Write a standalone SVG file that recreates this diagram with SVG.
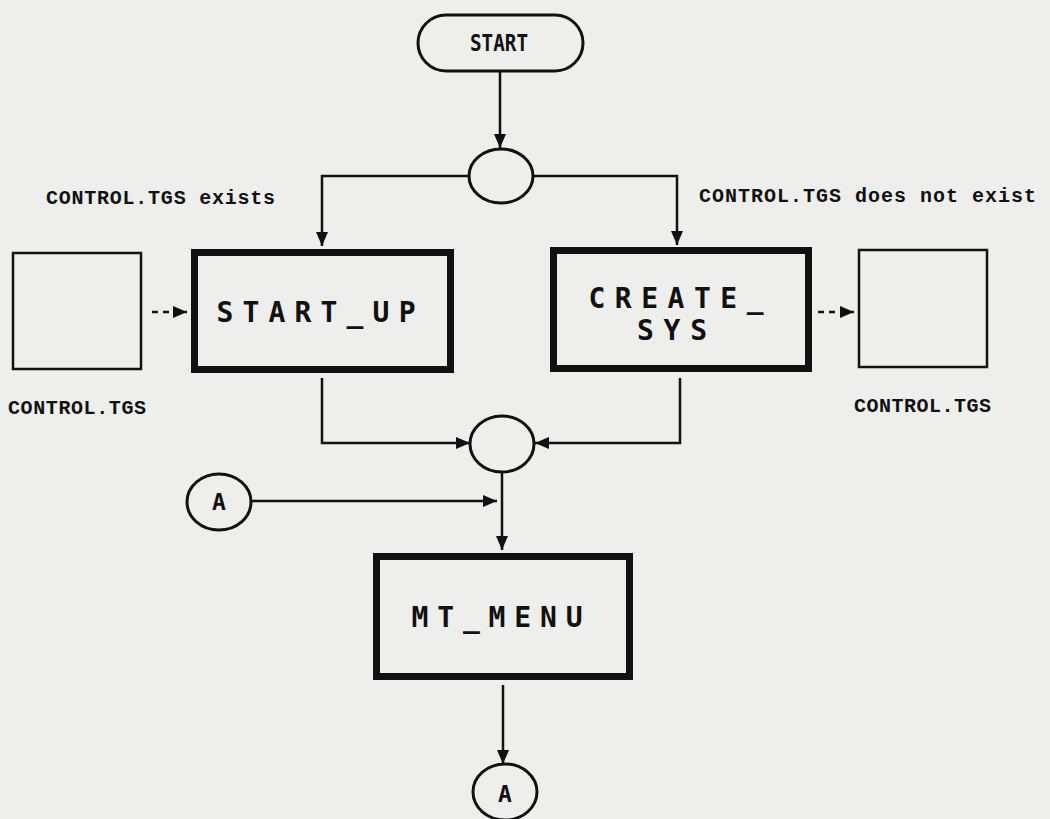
<svg xmlns="http://www.w3.org/2000/svg" width="1050" height="819" viewBox="0 0 1050 819">
<defs>
<marker id="ah" viewBox="0 0 14 12" refX="14" refY="6" markerWidth="14" markerHeight="12" markerUnits="userSpaceOnUse" orient="auto">
<path d="M0,0 L14,6 L0,12 Z" fill="#111"/>
</marker>
</defs>
<style>
.bg{fill:#eeeeec}
.line{fill:none;stroke:#111;stroke-width:2.5}
.dash{fill:none;stroke:#111;stroke-width:2.5;stroke-dasharray:6,5}
.proc{fill:none;stroke:#111;stroke-width:7}
.file{fill:none;stroke:#111;stroke-width:2.5}
.conn{fill:none;stroke:#111;stroke-width:3}
.small{font-family:"Liberation Mono","DejaVu Sans Mono",monospace;font-size:20px;font-weight:bold;fill:#111}
.big{font-family:"DejaVu Sans Mono","Liberation Mono",monospace;font-size:28px;font-weight:bold;fill:#111;text-anchor:middle}
.lab{font-family:"DejaVu Sans Mono","Liberation Mono",monospace;font-size:23px;font-weight:bold;fill:#111;text-anchor:middle}
</style>
<rect class="bg" x="0" y="0" width="1050" height="819"/>

<g id="connectors">
<line class="line" x1="500" y1="71" x2="500" y2="148" marker-end="url(#ah)"/>
<path class="line" d="M469,176 H322 V246" marker-end="url(#ah)"/>
<path class="line" d="M533,176 H677 V245" marker-end="url(#ah)"/>
<path class="line" d="M322,378 V443 H470" marker-end="url(#ah)"/>
<path class="line" d="M680,378 V443 H535" marker-end="url(#ah)"/>
<line class="line" x1="502" y1="472" x2="502" y2="550" marker-end="url(#ah)"/>
<line class="line" x1="251" y1="501" x2="497" y2="501" marker-end="url(#ah)"/>
<line class="line" x1="503" y1="685" x2="503" y2="764" marker-end="url(#ah)"/>
<line class="dash" x1="152" y1="312" x2="187" y2="312" marker-end="url(#ah)"/>
<line class="dash" x1="818" y1="312" x2="854" y2="312" marker-end="url(#ah)"/>
</g>

<g id="start">
<rect class="conn" x="418" y="15" width="165" height="56" rx="28" ry="28"/>
<text class="lab" x="499" y="51" textLength="58" lengthAdjust="spacingAndGlyphs">START</text>
</g>

<g id="decision">
<ellipse class="conn" cx="501" cy="176" rx="32" ry="27"/>
</g>

<g id="label-exists">
<text class="small" x="46" y="204" textLength="229">CONTROL.TGS exists</text>
</g>
<g id="label-not-exists">
<text class="small" x="699" y="202" textLength="337">CONTROL.TGS does not exist</text>
</g>

<g id="file-left">
<rect class="file" x="13" y="253" width="128" height="116"/>
<text class="small" x="8" y="414" textLength="138">CONTROL.TGS</text>
</g>

<g id="start-up">
<rect class="proc" x="194.5" y="252.5" width="256" height="117"/>
<text class="big" x="316" y="322" textLength="199">START_UP</text>
</g>

<g id="create-sys">
<rect class="proc" x="553.5" y="250.5" width="255" height="118"/>
<text class="big" x="676" y="308" textLength="175">CREATE_</text>
<text class="big" x="672" y="340" textLength="70">SYS</text>
</g>

<g id="file-right">
<rect class="file" x="859" y="250" width="128" height="117"/>
<text class="small" x="854" y="412" textLength="137">CONTROL.TGS</text>
</g>

<g id="merge">
<ellipse class="conn" cx="502" cy="444" rx="32" ry="28"/>
</g>

<g id="connector-a-in">
<ellipse class="conn" cx="219" cy="502" rx="32" ry="28"/>
<text class="lab" x="219" y="510">A</text>
</g>

<g id="mt-menu">
<rect class="proc" x="376.5" y="556.5" width="253" height="120"/>
<text class="big" x="497" y="627" textLength="171">MT_MENU</text>
</g>

<g id="connector-a-out">
<ellipse class="conn" cx="505" cy="792" rx="32" ry="28"/>
<text class="lab" x="505" y="802">A</text>
</g>
</svg>
